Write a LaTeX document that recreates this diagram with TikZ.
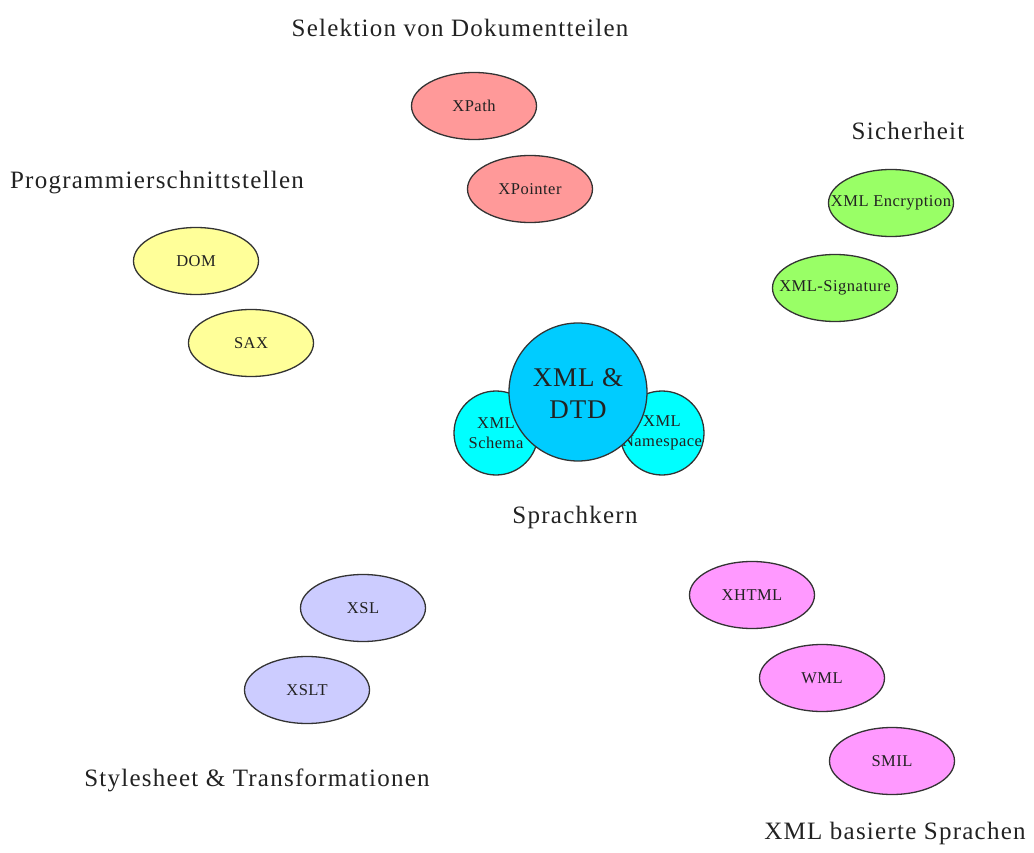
\documentclass[tikz,border=0pt]{standalone}
\usepackage{fontspec}
\setmainfont{Liberation Serif}
\usetikzlibrary{shapes.geometric}

\definecolor{redfill}{HTML}{FF9999}
\definecolor{yellowfill}{HTML}{FFFF99}
\definecolor{greenfill}{HTML}{99FF66}
\definecolor{bluefill}{HTML}{CCCCFF}
\definecolor{pinkfill}{HTML}{FF99FF}
\definecolor{cyanfill}{HTML}{00FFFF}
\definecolor{corefill}{HTML}{00CCFF}
\definecolor{rim}{HTML}{333333}
\definecolor{ink}{HTML}{222222}

\tikzset{
  blob/.style={ellipse, draw=rim, line width=1.3pt, minimum width=125pt,
    minimum height=67pt, inner sep=0pt},
  blobtext/.style={font=\fontsize{16.5}{20}\selectfont\addfontfeature{LetterSpace=3},
    text=ink, inner sep=0pt},
  smallcirc/.style={circle, draw=rim, line width=1.3pt, fill=cyanfill,
    minimum size=84pt, inner sep=0pt},
  bigcirc/.style={circle, draw=rim, line width=1.3pt, fill=corefill,
    minimum size=138pt, inner sep=0pt},
  heading/.style={font=\fontsize{25}{30}\selectfont\addfontfeature{LetterSpace=5},
    text=ink, inner sep=0pt},
}

\begin{document}
\begin{tikzpicture}[x=1pt, y=-1pt]
\useasboundingbox (0,0) rectangle (1034,853);

% Selektion von Dokumentteilen
\node[heading] (hsel) at (460,28) {Selektion von Dokumentteilen};
\node[blob, fill=redfill] (xpath) at (474,106) {};
\node[blobtext] (txpath) at (xpath) {XPath};
\node[blob, fill=redfill] (xpointer) at (530,189) {};
\node[blobtext] (txpointer) at (xpointer) {XPointer};

% Sicherheit
\node[heading] (hsich) at (908,131) {Sicherheit};
\node[blob, fill=greenfill] (enc) at (891,203) {};
\node[blobtext] (tenc) at (enc) {XML Encryption};
\node[blob, fill=greenfill] (sig) at (835,288) {};
\node[blobtext] (tsig) at (sig) {XML-Signature};

% Programmierschnittstellen
\node[heading] (hprog) at (157,183) {Programmierschnittstellen};
\node[blob, fill=yellowfill] (dom) at (196,261) {};
\node[blobtext] (tdom) at (dom) {DOM};
\node[blob, fill=yellowfill] (sax) at (251,343) {};
\node[blobtext] (tsax) at (sax) {SAX};

% Sprachkern
\node[smallcirc] (schema) at (496,433) {};
\node[blobtext, align=center] (tschema) at (schema) {XML\\Schema};
\node[smallcirc] (names) at (662,433) {};
\node[blobtext, align=center] (tnames) at (names) {XML\\Namespace};
\node[bigcirc] (core) at (578,392) {};
\node[font=\fontsize{27}{32}\selectfont\addfontfeature{LetterSpace=3}, text=ink,
  align=center, inner sep=0pt] (tcore) at (578,394) {XML \&\\DTD};
\node[heading] (hkern) at (575,517) {Sprachkern};

% Stylesheet & Transformationen
\node[blob, fill=bluefill] (xsl) at (363,608) {};
\node[blobtext] (txsl) at (xsl) {XSL};
\node[blob, fill=bluefill] (xslt) at (307,690) {};
\node[blobtext] (txslt) at (xslt) {XSLT};
\node[heading] (hstyle) at (257,780) {Stylesheet \& Transformationen};

% XML basierte Sprachen
\node[blob, fill=pinkfill] (xhtml) at (752,595) {};
\node[blobtext] (txhtml) at (xhtml) {XHTML};
\node[blob, fill=pinkfill] (wml) at (822,678) {};
\node[blobtext] (twml) at (wml) {WML};
\node[blob, fill=pinkfill] (smil) at (892,761) {};
\node[blobtext] (tsmil) at (smil) {SMIL};
\node[heading] (hxml) at (895,833) {XML basierte Sprachen};
\end{tikzpicture}
\end{document}
